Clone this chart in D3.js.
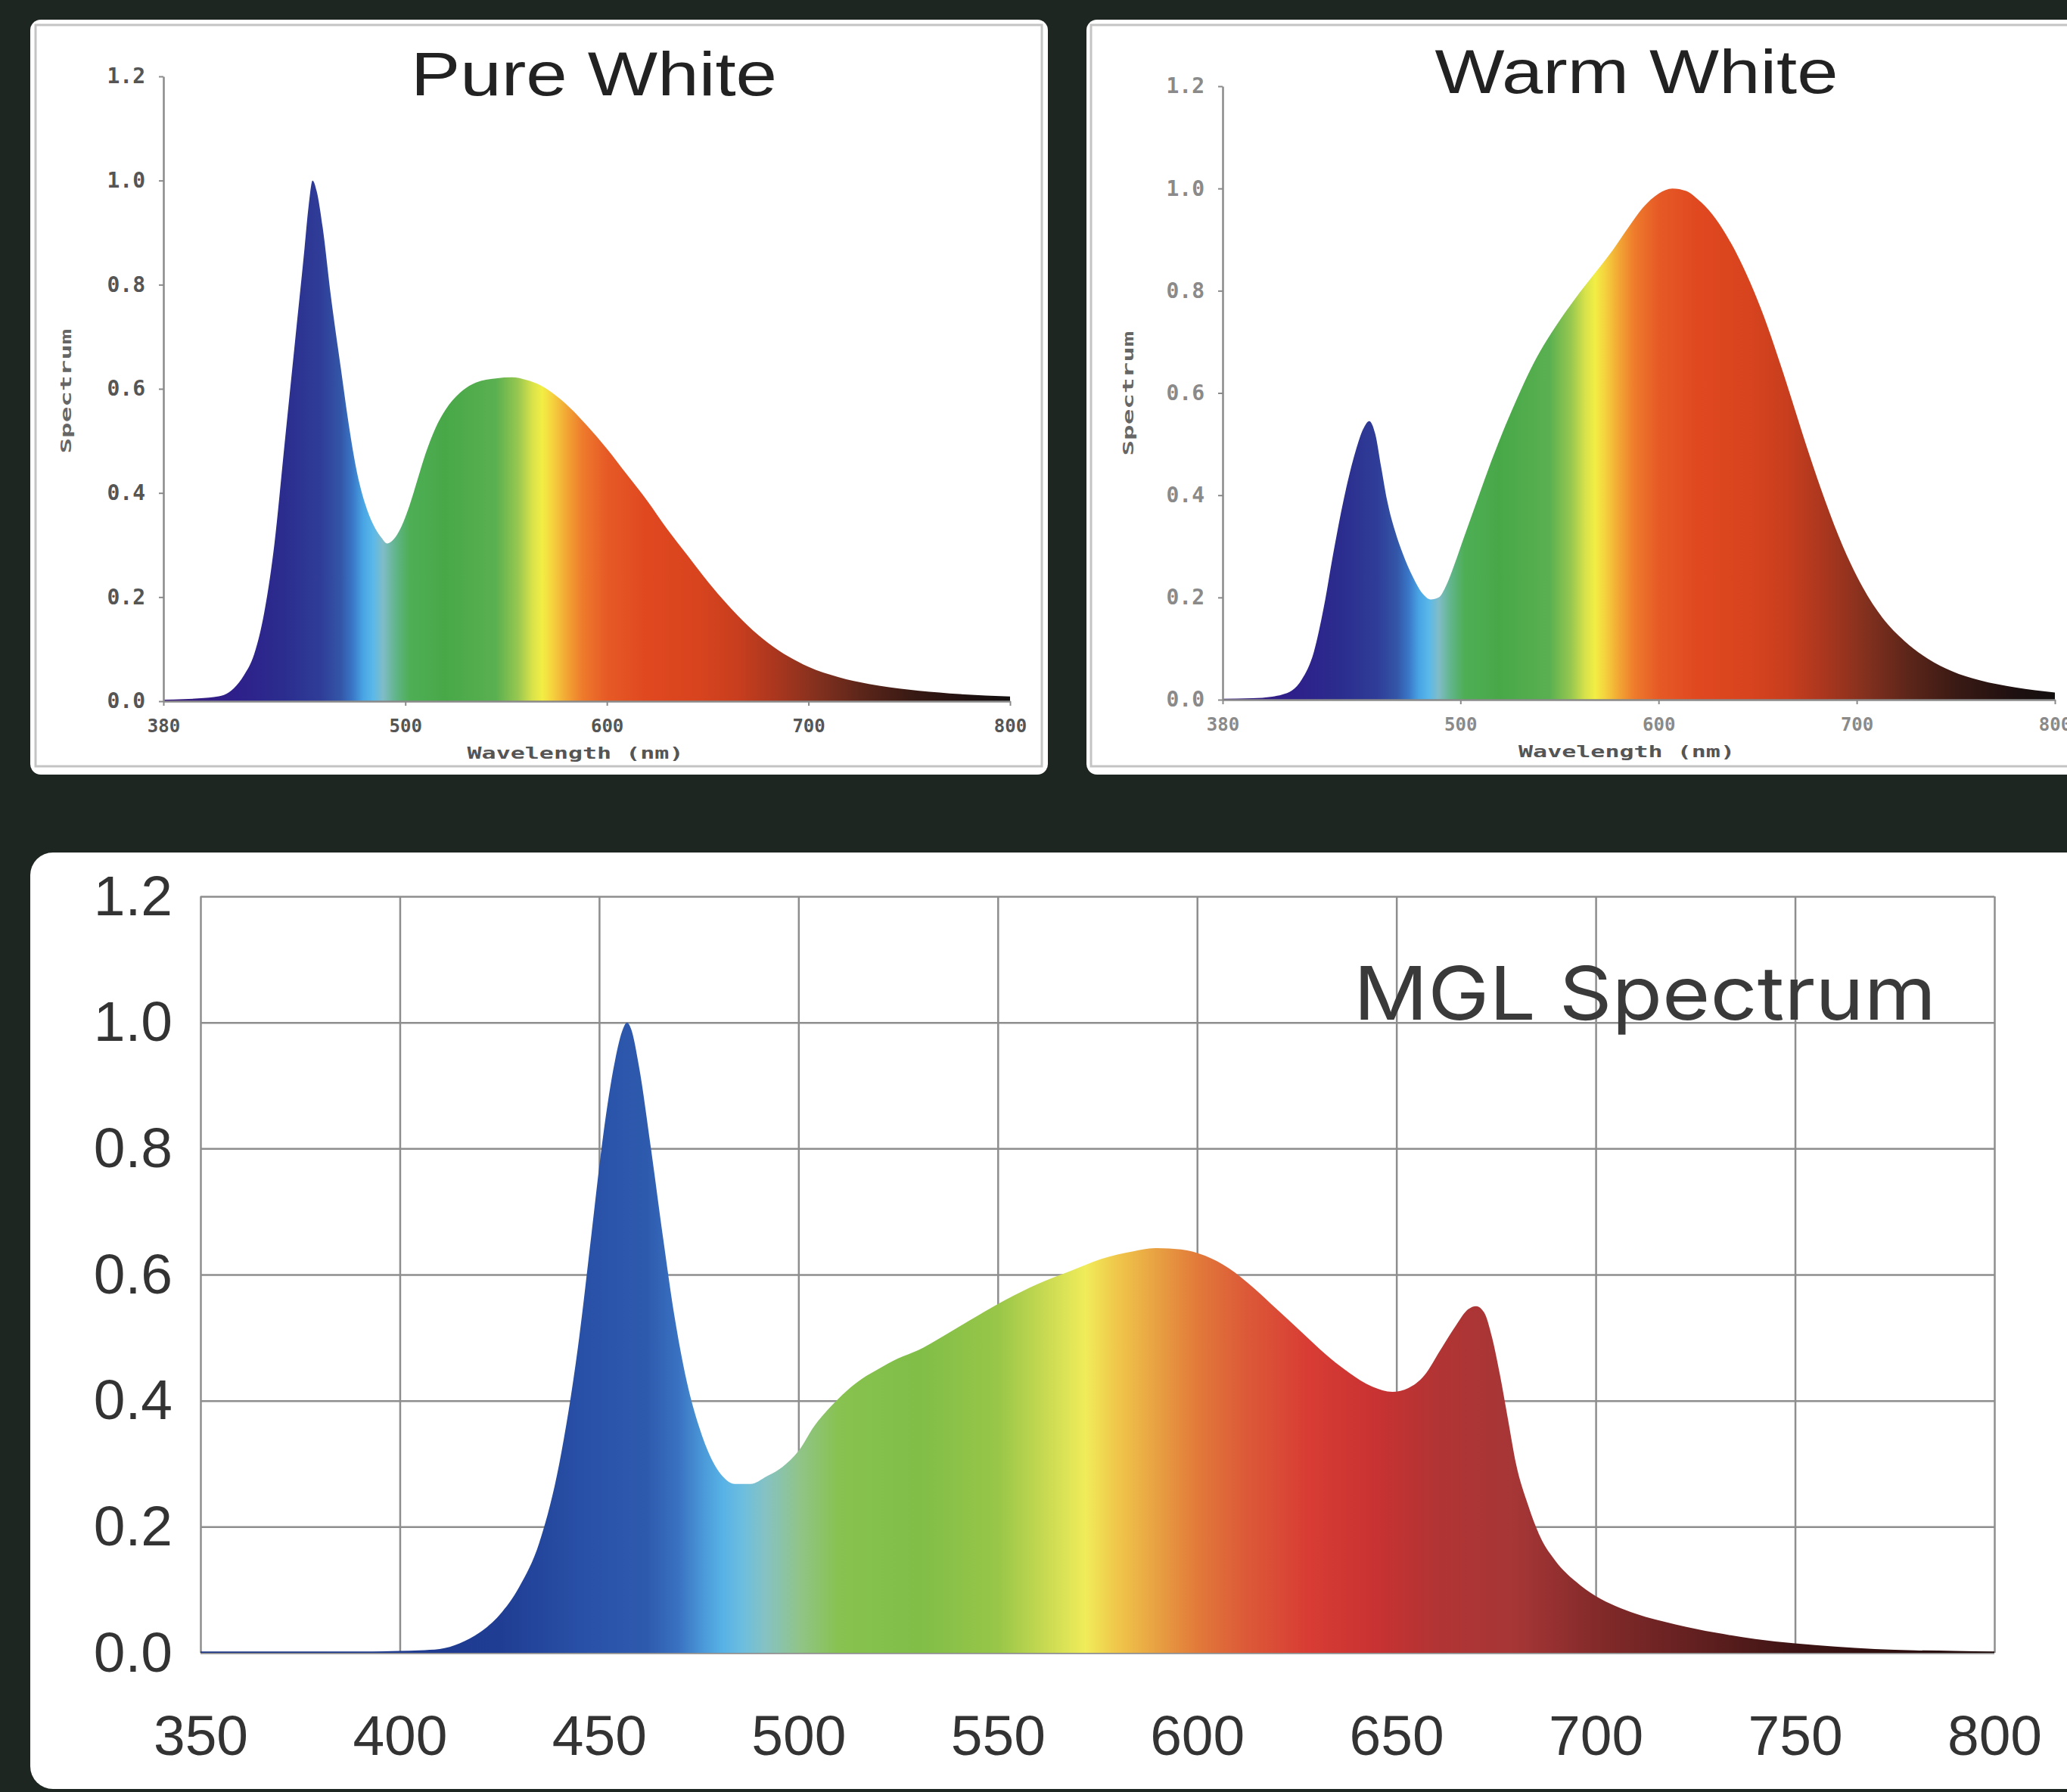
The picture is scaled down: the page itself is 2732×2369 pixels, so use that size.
<!DOCTYPE html>
<html><head><meta charset="utf-8">
<script src="https://cdn.jsdelivr.net/npm/d3@7"></script>
<style>
html,body{margin:0;padding:0;background:#1e2622;}
svg{display:block}
</style></head>
<body><svg id="c" width="2732" height="2369"></svg>
<script>
// ---------- DATA ----------
const pureWl  = [380,390,400,405,410,415,420,425,430,435,440,445,450,452,454,456,459,463,468,472,476,480,484,488,491,494,498,502,506,510,515,520,527,535,545,553,560,567,577,590,600,610,620,630,640,650,660,670,680,690,700,715,730,750,770,800];
const pureVal = [0.003,0.004,0.006,0.008,0.012,0.025,0.05,0.09,0.17,0.30,0.49,0.68,0.87,0.95,1.0,0.98,0.91,0.78,0.64,0.53,0.44,0.38,0.34,0.315,0.303,0.31,0.335,0.375,0.425,0.475,0.525,0.56,0.592,0.612,0.62,0.622,0.617,0.607,0.58,0.53,0.485,0.435,0.385,0.33,0.28,0.23,0.185,0.145,0.112,0.086,0.066,0.046,0.033,0.022,0.015,0.009];

const warmWl  = [380,395,405,410,415,420,426,431,436,441,447,451,454,457,460,463,467,471,476,481,485,489,493,497,502,508,514,521,528,534,540,548,558,567,577,585,592,600,607,614,620,627,634,641,648,655,662,669,676,684,693,703,713,724,736,748,762,780,800];
const warmVal = [0.002,0.003,0.006,0.01,0.018,0.04,0.093,0.18,0.29,0.39,0.485,0.53,0.545,0.52,0.455,0.39,0.33,0.285,0.24,0.207,0.196,0.2,0.225,0.265,0.32,0.385,0.45,0.52,0.584,0.635,0.68,0.73,0.785,0.83,0.88,0.925,0.962,0.99,1.0,0.995,0.978,0.95,0.91,0.86,0.8,0.73,0.65,0.565,0.48,0.39,0.3,0.22,0.16,0.115,0.08,0.056,0.038,0.024,0.014];

const mglWl  = [350,360,370,380,390,400,405,410,415,420,425,430,435,440,445,448,451,454,456,457,458,460,463,466,469,472,475,478,481,484,488,492,496,500,504,508,512,516,520,525,530,537,545,552,560,568,576,584,590,596,602,608,614,620,626,632,638,644,649,653,657,661,665,668,670,672,674,676,678,680,683,686,690,695,700,705,710,720,730,740,750,760,770,780,790,800];
const mglVal = [0.002,0.002,0.002,0.002,0.002,0.003,0.004,0.006,0.015,0.032,0.06,0.105,0.175,0.30,0.5,0.66,0.82,0.94,0.99,1.0,0.99,0.93,0.8,0.66,0.53,0.43,0.36,0.31,0.28,0.268,0.268,0.28,0.295,0.32,0.36,0.39,0.415,0.435,0.45,0.467,0.48,0.505,0.535,0.56,0.585,0.605,0.625,0.637,0.642,0.64,0.63,0.61,0.58,0.545,0.51,0.475,0.445,0.422,0.414,0.42,0.44,0.48,0.52,0.545,0.55,0.54,0.5,0.44,0.37,0.3,0.235,0.185,0.145,0.113,0.09,0.074,0.062,0.045,0.032,0.022,0.015,0.01,0.006,0.004,0.003,0.002];

const smallYTicks = [0,0.2,0.4,0.6,0.8,1.0,1.2];
const smallXTicks = [380,500,600,700,800];
const mglYTicks = [0,0.2,0.4,0.6,0.8,1.0,1.2];
const mglXTicks = [350,400,450,500,550,600,650,700,750,800];

const specStopWl = [380,415,440,458,468,474,479,484,489,495,502,520,545,556,563,568,573,580,588,600,620,645,665,685,705,725,750,780,800];
const specStopColor = ['#3a1d7c','#2e1f8a','#2b2d8e','#2f3d98','#3356a8','#3a78c8','#48a4e4','#5ab8ea','#80bcc8','#62b58c','#4eae55','#48a848','#5ab050','#98c850','#d8e24a','#f2ee44','#f5d23e','#f2a634','#ee7a2c','#e65a26','#e04820','#d8441e','#c83e1e','#a8361e','#82301e','#5e261a','#3a1a14','#1e1010','#141010'];

const mglStopWl = [350,425,445,462,470,476,481,486,492,500,510,530,550,562,572,580,590,600,612,628,645,660,680,700,720,750,800];
const mglStopColor = ['#1c3585','#1f3d93','#2850a6','#2e5aae','#3a72c2','#4a98d8','#58b2e6','#6cbedf','#86c2c2','#90c48a','#88c250','#80be48','#98c648','#c8da52','#f0ec5a','#f0c64a','#e8a042','#e27a3a','#dc5a38','#d83c34','#c83232','#b23434','#a63636','#842a2a','#6a2222','#3e1414','#1e0808'];

// ---------- DRAW ----------
const svg = d3.select('#c');
const defs = svg.append('defs');

function gradient(id, x, wls, cols){
  const x1 = x(wls[0]), x2 = x(wls[wls.length-1]);
  const g = defs.append('linearGradient').attr('id', id)
    .attr('gradientUnits','userSpaceOnUse')
    .attr('x1',x1).attr('x2',x2).attr('y1',0).attr('y2',0);
  wls.forEach((w,i)=>g.append('stop')
    .attr('offset',(x(w)-x1)/(x2-x1)).attr('stop-color',cols[i]));
}

// panels
svg.append('rect').attr('x',40).attr('y',26).attr('width',1345).attr('height',998).attr('rx',14).attr('fill','#ffffff');
svg.append('rect').attr('x',47).attr('y',33).attr('width',1330).attr('height',980).attr('fill','none').attr('stroke','#c4c4c4').attr('stroke-width',3);
svg.append('rect').attr('x',1436).attr('y',26).attr('width',1340).attr('height',998).attr('rx',14).attr('fill','#ffffff');
svg.append('rect').attr('x',1442).attr('y',33).attr('width',1330).attr('height',980).attr('fill','none').attr('stroke','#c4c4c4').attr('stroke-width',3);
svg.append('rect').attr('x',40).attr('y',1127).attr('width',2740).attr('height',1238).attr('rx',30).attr('fill','#ffffff');

function smallChart(cfg){
  const x = d3.scaleLinear().domain([380,800]).range([cfg.x0, cfg.x1]);
  const y = d3.scaleLinear().domain([0,1.2]).range([cfg.y0, cfg.y1]);
  gradient(cfg.id, x, specStopWl, specStopColor);
  const data = cfg.wl.map((w,i)=>({w, v:cfg.val[i]}));
  const area = d3.area().x(d=>x(d.w)).y0(y(0)).y1(d=>y(d.v)).curve(d3.curveMonotoneX);
  svg.append('path').datum(data).attr('d',area).attr('fill',`url(#${cfg.id})`);

  const gy = svg.append('g').attr('transform',`translate(${cfg.x0},0)`)
    .call(d3.axisLeft(y).tickValues(smallYTicks).tickSize(6).tickSizeOuter(0).tickPadding(18).tickFormat(d3.format('.1f')));
  const gx = svg.append('g').attr('transform',`translate(0,${cfg.y0})`)
    .call(d3.axisBottom(x).tickValues(smallXTicks).tickSize(6).tickSizeOuter(0).tickPadding(18).tickFormat(d3.format('d')));
  [gy,gx].forEach(g=>{
    g.select('.domain').attr('stroke','#8a8a8a').attr('stroke-width',2.5);
    g.selectAll('.tick line').attr('stroke','#8a8a8a').attr('stroke-width',2);
    g.selectAll('.tick text').attr('fill',cfg.tickColor)
      .style('font-family','DejaVu Sans Mono, monospace').style('font-weight','bold');
  });
  gy.selectAll('.tick text').style('font-size','28px');
  gx.selectAll('.tick text').style('font-size','24px');

  svg.append('text').text(cfg.title)
    .attr('x',cfg.titleX).attr('y',cfg.titleY).attr('text-anchor','middle')
    .attr('textLength',cfg.titleW).attr('lengthAdjust','spacingAndGlyphs')
    .style('font-family','Liberation Sans, Arial, sans-serif').style('font-size','82px').attr('fill','#222');
  svg.append('text').text('Wavelength (nm)')
    .attr('x',(cfg.x0+cfg.x1)/2 + cfg.xlabOff).attr('y',cfg.y0+76).attr('text-anchor','middle')
    .attr('textLength',286).attr('lengthAdjust','spacingAndGlyphs')
    .style('font-family','DejaVu Sans Mono, monospace').style('font-weight','bold').style('font-size','22px').attr('fill','#555');
  svg.append('text').text('Spectrum')
    .attr('transform',`translate(${cfg.ylabX},${cfg.ylabY}) rotate(-90)`).attr('text-anchor','middle')
    .attr('textLength',165).attr('lengthAdjust','spacingAndGlyphs')
    .style('font-family','DejaVu Sans Mono, monospace').style('font-weight','bold').style('font-size','20px').attr('fill','#666');
}

smallChart({id:'gPure', wl:pureWl, val:pureVal, x0:216, x1:1335, y0:927, y1:101,
  title:'Pure White', titleX:785, titleY:126, titleW:484, tickColor:'#555', xlabOff:-15, ylabX:94, ylabY:517});
smallChart({id:'gWarm', wl:warmWl, val:warmVal, x0:1616, x1:2716, y0:925, y1:114,
  title:'Warm White', titleX:2163, titleY:123, titleW:533, tickColor:'#8a8a8a', xlabOff:-16, ylabX:1498, ylabY:520});

// ---------- MGL ----------
const mx = d3.scaleLinear().domain([350,800]).range([265,2636]);
const my = d3.scaleLinear().domain([0,1.2]).range([2185,1185]);
gradient('gMgl', mx, mglStopWl, mglStopColor);
const mglData = mglWl.map((w,i)=>({w, v:mglVal[i]}));
const mArea = d3.area().x(d=>mx(d.w)).y0(my(0)).y1(d=>my(d.v)).curve(d3.curveMonotoneX);

const gyM = svg.append('g').attr('transform','translate(265,0)')
  .call(d3.axisLeft(my).tickValues(mglYTicks).tickSize(-(2636-265)).tickSizeOuter(0).tickPadding(37).tickFormat(d3.format('.1f')));
const gxM = svg.append('g').attr('transform','translate(0,2185)')
  .call(d3.axisBottom(mx).tickValues(mglXTicks).tickSize(-(2185-1185)).tickSizeOuter(0).tickPadding(82).tickFormat(d3.format('d')));
[gyM,gxM].forEach(g=>{
  g.select('.domain').remove();
  g.selectAll('.tick line').attr('stroke','#8e8e8e').attr('stroke-width',2.5);
  g.selectAll('.tick text').attr('fill','#333')
    .style('font-family','Liberation Sans, Arial, sans-serif').style('font-size','75px');
});
svg.append('path').datum(mglData).attr('d',mArea).attr('fill','url(#gMgl)');

svg.append('text').text('MGL Spectrum')
  .attr('x',1789).attr('y',1348).attr('textLength',770).attr('lengthAdjust','spacingAndGlyphs')
  .style('font-family','Inter, Lato, sans-serif').style('font-size','98px').attr('fill','#3a3a3a');
</script>
</body></html>
